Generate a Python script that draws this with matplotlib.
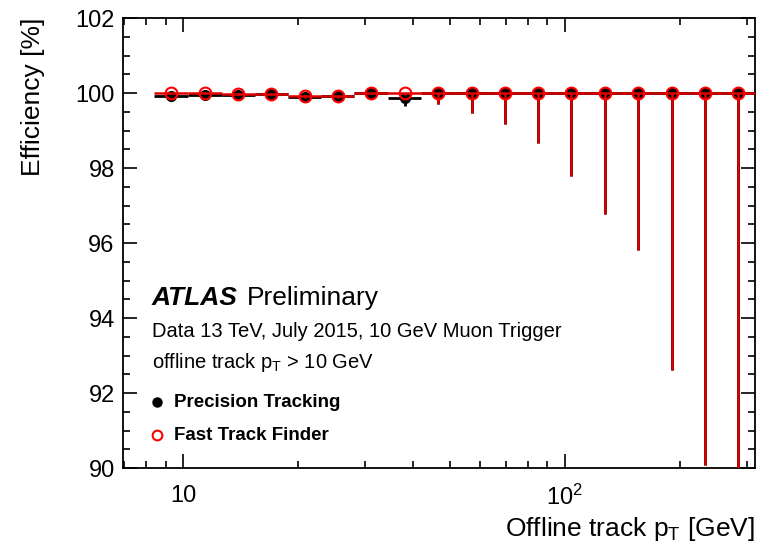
import matplotlib
matplotlib.use("Agg")
import matplotlib.pyplot as plt
import matplotlib.ticker as ticker
import numpy as np

# bin edges in offline track pT [GeV]
bin_edges = [8.4, 10.3, 12.6, 15.4, 18.8, 23.0, 28.1, 34.4, 42.1, 51.5,
             63.0, 77.0, 94.2, 115.1, 140.8, 172.2, 210.6, 257.5, 315.0]

# Precision Tracking efficiency [%] and error band ends
eff_prec = [99.93, 99.95, 99.96, 99.97, 99.90, 99.93, 100.0, 99.86, 100.0,
            100.0, 100.0, 100.0, 100.0, 100.0, 100.0, 100.0, 100.0, 100.0]
prec_lo = [99.89, 99.92, 99.93, 99.94, 99.86, 99.89, 99.97, 99.66, 99.71,
           99.47, 99.17, 98.67, 97.79, 96.77, 95.81, 92.61, 90.08, 87.5]
prec_hi = [99.97, 99.98, 99.99, 99.99, 99.94, 99.96, 100.0, 99.95, 100.0,
           100.0, 100.0, 100.0, 100.0, 100.0, 100.0, 100.0, 100.0, 100.0]

# Fast Track Finder efficiency [%] and error band ends
eff_ftf = [100.0, 100.0, 99.97, 99.98, 99.92, 99.92, 100.0, 100.0, 100.0,
           100.0, 100.0, 100.0, 100.0, 100.0, 100.0, 100.0, 100.0, 100.0]
ftf_lo = [99.97, 99.97, 99.94, 99.95, 99.88, 99.88, 99.97, 99.96, 99.71,
          99.47, 99.17, 98.67, 97.79, 96.77, 95.81, 92.61, 90.08, 87.5]
ftf_hi = [100.0, 100.0, 99.99, 100.0, 99.96, 99.96, 100.0, 100.0, 100.0,
          100.0, 100.0, 100.0, 100.0, 100.0, 100.0, 100.0, 100.0, 100.0]

plt.rcParams['font.family'] = ['Liberation Sans', 'DejaVu Sans']
plt.rcParams['mathtext.fontset'] = 'custom'
plt.rcParams['mathtext.rm'] = 'Liberation Sans'
plt.rcParams['mathtext.it'] = 'Liberation Sans:italic'
plt.rcParams['mathtext.bf'] = 'Liberation Sans:bold'

edges = np.array(bin_edges)
pt = np.sqrt(edges[:-1] * edges[1:])
xerr = [pt - edges[:-1], edges[1:] - pt]

def yerr(eff, lo, hi):
    eff = np.array(eff)
    return [eff - np.array(lo), np.array(hi) - eff]

fig = plt.figure(figsize=(7.61, 5.51), dpi=100)
ax = fig.add_axes([0.1616, 0.1506, 0.8304, 0.8167])

ax.errorbar(pt, eff_prec, xerr=xerr, yerr=yerr(eff_prec, prec_lo, prec_hi),
            fmt='o', color='black', ms=7, elinewidth=2.0, capsize=0, zorder=3)
ax.errorbar(pt, eff_ftf, xerr=xerr, yerr=yerr(eff_ftf, ftf_lo, ftf_hi),
            fmt='o', color='#dd0000', mfc='none', mec='red', ms=8.5, mew=1.5,
            elinewidth=1.8, capsize=0, zorder=4)

ax.set_xscale('log')
ax.set_xlim(6.95, 315)
ax.set_ylim(90, 102)
ax.set_xticks([10, 100], labels=['10', r'$\mathregular{10^{2}}$'])
ax.xaxis.set_minor_locator(ticker.LogLocator(base=10, subs=np.arange(2, 10)))
ax.xaxis.set_minor_formatter(ticker.NullFormatter())
ax.yaxis.set_major_locator(ticker.MultipleLocator(2))
ax.yaxis.set_minor_locator(ticker.MultipleLocator(0.5))

ax.tick_params(which='both', direction='in', top=True, right=True,
               labelsize=17, width=1.2)
ax.tick_params(which='major', length=10)
ax.tick_params(which='minor', length=5)
ax.tick_params(axis='x', which='major', pad=12)
ax.tick_params(axis='y', which='major', pad=6)
for s in ax.spines.values():
    s.set_linewidth(1.3)

ax.set_ylabel('Efficiency [%]', fontsize=19, loc='top', labelpad=22)
ax.set_xlabel(r'Offline track p$_{\mathrm{T}}$ [GeV]', fontsize=19,
              loc='right', labelpad=4)

ax.text(0.046, 0.362, 'ATLAS', transform=ax.transAxes, fontsize=19,
        fontweight='bold', fontstyle='italic', va='baseline')
ax.text(0.196, 0.362, 'Preliminary', transform=ax.transAxes, fontsize=19,
        va='baseline')
ax.text(0.046, 0.292, 'Data 13 TeV, July 2015, 10 GeV Muon Trigger',
        transform=ax.transAxes, fontsize=14.5, va='baseline')
ax.text(0.046, 0.222, r'offline track p$_{\mathrm{T}}$ > 10 GeV',
        transform=ax.transAxes, fontsize=14.5, va='baseline')

# legend
ax.plot([0.0535], [0.146], 'o', color='black', ms=6.5, transform=ax.transAxes,
        clip_on=False)
ax.plot([0.0535], [0.073], 'o', mfc='none', mec='red', ms=7, mew=1.5,
        transform=ax.transAxes, clip_on=False)
ax.text(0.081, 0.146, 'Precision Tracking', transform=ax.transAxes,
        fontsize=13.5, fontweight='bold', va='center')
ax.text(0.081, 0.073, 'Fast Track Finder', transform=ax.transAxes,
        fontsize=13.5, fontweight='bold', va='center')

fig.savefig('out.png', dpi=100)
